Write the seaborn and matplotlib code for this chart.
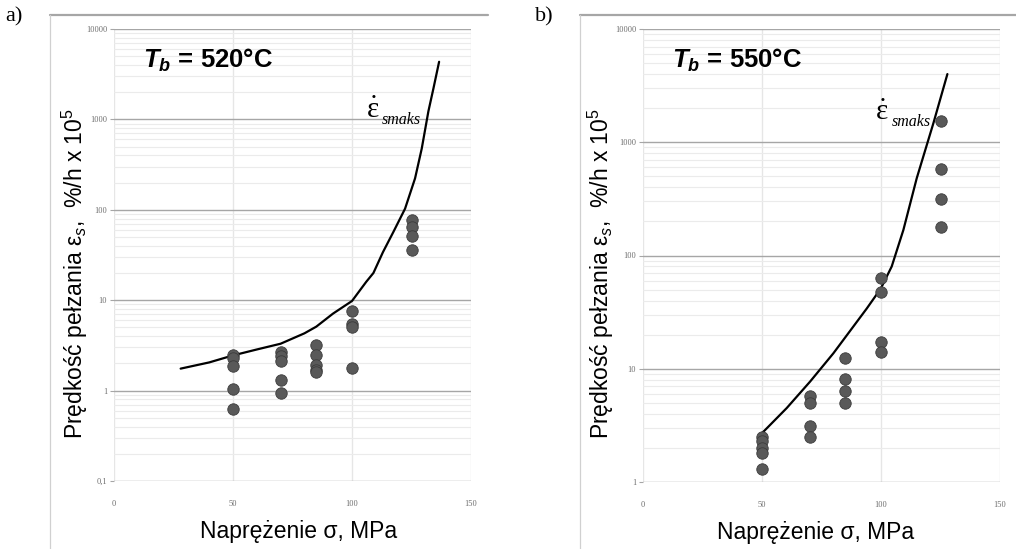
import numpy as np
import pandas as pd
import matplotlib
matplotlib.use("Agg")
import matplotlib.pyplot as plt
import seaborn as sns
from matplotlib.lines import Line2D
from matplotlib.ticker import FixedLocator, NullFormatter

sns.set_theme(style="white")
plt.rcParams['font.family'] = ['Liberation Sans', 'DejaVu Sans']
plt.rcParams['mathtext.fontset'] = 'custom'
plt.rcParams['mathtext.rm'] = 'Liberation Sans'
plt.rcParams['mathtext.it'] = 'Liberation Sans:italic'
plt.rcParams['mathtext.bf'] = 'Liberation Sans:bold'
plt.rcParams['mathtext.bfit'] = 'Liberation Sans:italic:bold'

# ---------------- data ----------------
# panel a) Tb = 520 C
stress_a = [50, 50, 50, 50, 50,
            70, 70, 70, 70, 70,
            85, 85, 85, 85, 85,
            100, 100, 100, 100,
            125, 125, 125, 125]
rate_a = [2.5, 2.3, 1.85, 1.05, 0.62,
          2.7, 2.4, 2.1, 1.3, 0.95,
          3.2, 2.5, 1.9, 1.7, 1.6,
          7.5, 5.4, 5.0, 1.8,
          77, 65, 51, 36]
curve_stress_a = [28, 40, 50, 60, 70, 80, 85, 92, 100, 106, 109, 113, 117.4, 122.3,
                  126.5, 129.3, 132.1, 134.2, 136.6]
curve_rate_a = [1.75, 2.05, 2.45, 2.85, 3.3, 4.3, 5.1, 7.1, 9.8, 16, 20, 34, 57, 103,
                223, 475, 1230, 2190, 4340]

# panel b) Tb = 550 C
stress_b = [50, 50, 50, 50, 50,
            70, 70, 70, 70,
            85, 85, 85, 85,
            100, 100, 100, 100,
            125, 125, 125, 125]
rate_b = [2.5, 2.3, 2.0, 1.8, 1.3,
          5.7, 5.0, 3.1, 2.5,
          12.4, 8.1, 6.3, 5.0,
          63, 48, 17.3, 14.1,
          1550, 580, 313, 180]
curve_stress_b = [50, 60.4, 70.2, 80, 85.2, 94, 99.9, 104.5, 109.4, 115, 122, 127.9]
curve_rate_b = [2.7, 4.5, 7.7, 13.7, 19.2, 34, 51, 80, 168, 480, 1470, 4000]

panels = [
    dict(letter="a)", temp="520°C", stress=stress_a, rate=rate_a,
         cs=curve_stress_a, cr=curve_rate_a, ylim=(0.1, 10000),
         yticks=[0.1, 1, 10, 100, 1000, 10000],
         yticklabels=["0,1", "1", "10", "100", "1000", "10000"],
         pos=[114, 29, 471, 481], frame=[50, 15, 488],
         ann=(106.3, 1070), ylab_x=-0.066, xlab_dx=0.017),
    dict(letter="b)", temp="550°C", stress=stress_b, rate=rate_b,
         cs=curve_stress_b, cr=curve_rate_b, ylim=(1, 10000),
         yticks=[1, 10, 100, 1000, 10000],
         yticklabels=["1", "10", "100", "1000", "10000"],
         pos=[643, 29, 1000, 482], frame=[580, 15, 1016],
         ann=(98.0, 1600), ylab_x=-0.076, xlab_dx=-0.018),
]
xticks = [0, 50, 100, 150]
xticklabels = ["0", "50", "100", "150"]

W, H = 1016, 549
fig = plt.figure(figsize=(W / 100, H / 100), dpi=100)

for p in panels:
    l, t, r, b = p["pos"]
    ax = fig.add_axes([l / W, 1 - b / H, (r - l) / W, (b - t) / H])
    ax.set_yscale("log")
    ax.set_xlim(0, 150)
    ax.set_ylim(*p["ylim"])

    # grid
    ax.yaxis.set_major_locator(FixedLocator(p["yticks"]))
    minors = [m * 10.0 ** e for e in range(-1, 4) for m in range(2, 10)
              if p["ylim"][0] < m * 10.0 ** e < p["ylim"][1]]
    ax.yaxis.set_minor_locator(FixedLocator(minors))
    ax.yaxis.set_minor_formatter(NullFormatter())
    ax.set_yticklabels(p["yticklabels"])
    ax.set_xticks(xticks)
    ax.set_xticklabels(xticklabels)
    ax.grid(which="major", axis="y", color="#a6a6a6", linewidth=1.0)
    ax.grid(which="minor", axis="y", color="#ebebeb", linewidth=0.8)
    ax.grid(which="major", axis="x", color="#e6e6e6", linewidth=1.0)
    for s in ["top", "right", "left", "bottom"]:
        ax.spines[s].set_visible(False)
    ax.tick_params(axis="y", which="major", length=3, width=0.8, color="#a6a6a6",
                   direction="out", left=True, pad=2, labelsize=6, labelcolor="#6e6e6e")
    ax.tick_params(axis="y", which="minor", length=0)
    ax.tick_params(axis="x", which="major", length=0, pad=14, labelsize=6,
                   labelcolor="#6e6e6e")
    for lab in ax.get_xticklabels() + ax.get_yticklabels():
        lab.set_fontfamily("Liberation Serif")

    # data
    sns.lineplot(x=p["cs"], y=p["cr"], ax=ax, color="black", linewidth=1.6,
                 sort=False, estimator=None, zorder=3)
    sns.scatterplot(x=p["stress"], y=p["rate"], ax=ax, s=68, color="#595959",
                    edgecolor="#3c3c3c", linewidth=0.6, zorder=4)

    # labels
    ax.set_ylabel("Prędkość pełzania ε$_s$,  %/h x 10$^5$", fontsize=16.5,
                  color="black")
    ax.yaxis.set_label_coords(p["ylab_x"], 0.46)
    ax.set_xlabel("Naprężenie σ, MPa", fontsize=16.5, color="black")
    ax.xaxis.set_label_coords(0.5 + p["xlab_dx"], -0.087)

    ax.text(0.081, 0.914, r"$\mathbfit{T}_\mathbfit{b}$ = " + p["temp"],
            transform=ax.transAxes, fontsize=18.5, fontweight="bold",
            va="baseline", ha="left", color="black")
    # strain-rate symbol: epsilon with dot above, italic subscript "smaks"
    ax.text(p["ann"][0], p["ann"][1], "ε", family="Liberation Serif",
            fontsize=21, va="baseline", ha="left", color="black", zorder=5)
    ax.annotate("˙", xy=p["ann"], xytext=(4.6, 1), textcoords="offset points",
                family="Liberation Serif", fontsize=21, va="baseline",
                ha="center", color="black", zorder=5)
    ax.annotate("smaks", xy=p["ann"], xytext=(11, -5), textcoords="offset points",
                family="Liberation Serif", style="italic", fontsize=11.5,
                va="baseline", ha="left", color="black", zorder=5)

    # frame of the panel
    fl, ft, fr = p["frame"]
    fig.add_artist(Line2D([fl / W, fr / W], [1 - ft / H, 1 - ft / H],
                          color="#a6a6a6", linewidth=1.6,
                          transform=fig.transFigure))
    fig.add_artist(Line2D([fl / W, fl / W], [1 - ft / H, 0],
                          color="#d0d0d0", linewidth=0.9,
                          transform=fig.transFigure))
    fig.text((fl - 45) / W, 1 - 17 / H, p["letter"], fontsize=16,
             family="Liberation Serif", va="center", ha="left", color="black")

fig.savefig("out.png", dpi=100, facecolor="white")
